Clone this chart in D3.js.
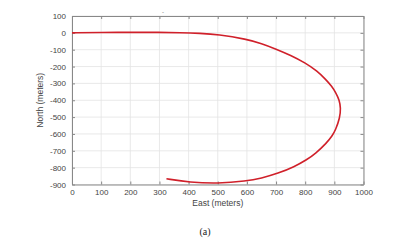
<!DOCTYPE html>
<html><head><meta charset="utf-8">
<script src="https://cdn.jsdelivr.net/npm/d3@7"></script>
<style>body{margin:0;background:#fff}svg{display:block}</style>
</head><body>
<script>
const eastVals = [0, 100, 200, 300, 370, 440, 500, 600, 650, 700, 750, 800, 840, 872, 890, 906, 917, 922, 919, 904, 893, 873, 836, 804, 763, 707, 649, 598, 500, 404, 324];
const northVals = [0, 2, 3, 3, 1, -3, -9, -38, -63, -96, -133, -178, -225, -279, -315, -357, -400, -446, -505, -577, -610, -655, -715, -755, -794, -834, -863, -880, -895, -887, -866];
const xTicks = [0,100,200,300,400,500,600,700,800,900,1000];
const yTicks = [100,0,-100,-200,-300,-400,-500,-600,-700,-800,-900];

const W=407,H=250;
const svg=d3.select("body").append("svg").attr("width",W).attr("height",H);
const x=d3.scaleLinear().domain([0,1000]).range([72,363.5]);
const y=d3.scaleLinear().domain([-900,100]).range([184.5,16]);

// grid
svg.append("g").selectAll("line").data(xTicks).join("line")
 .attr("x1",d=>x(d)).attr("x2",d=>x(d)).attr("y1",16).attr("y2",184.5)
 .attr("stroke","#e3e3e3").attr("stroke-width",0.8);
svg.append("g").selectAll("line").data(yTicks).join("line")
 .attr("y1",d=>y(d)).attr("y2",d=>y(d)).attr("x1",72).attr("x2",363.5)
 .attr("stroke","#e3e3e3").attr("stroke-width",0.8);

const fmt=d=>String(d);
const gx=svg.append("g").attr("transform","translate(0,184.5)").call(d3.axisBottom(x).tickValues(xTicks).tickFormat(fmt).tickSizeInner(-3).tickSizeOuter(0).tickPadding(6));
const gy=svg.append("g").attr("transform","translate(72,0)").call(d3.axisLeft(y).tickValues(yTicks).tickFormat(fmt).tickSizeInner(-3).tickSizeOuter(0).tickPadding(6));
const gt=svg.append("g").attr("transform","translate(0,16)").call(d3.axisTop(x).tickValues(xTicks).tickFormat("").tickSizeInner(-3).tickSizeOuter(0));
const gr=svg.append("g").attr("transform","translate(363.5,0)").call(d3.axisRight(y).tickValues(yTicks).tickFormat("").tickSizeInner(-3).tickSizeOuter(0));
[gx,gy,gt,gr].forEach(g=>{
  g.selectAll(".domain").attr("stroke","#888").attr("stroke-width",1);
  g.selectAll(".tick line").attr("stroke","#888");
  g.selectAll("text").attr("font-family","Liberation Sans, Arial, sans-serif").attr("font-size",8).attr("fill","#444");
});
gx.selectAll("text").attr("dy","0.55em");

const line=d3.line().x((d,i)=>x(eastVals[i])).y((d,i)=>y(northVals[i])).curve(d3.curveBasis);
svg.append("path").datum(eastVals).attr("d",line).attr("fill","none").attr("stroke","#d0202a").attr("stroke-width",1.6);

svg.append("text").attr("x",x(500)).attr("y",206).attr("text-anchor","middle")
 .attr("font-family","Liberation Sans, Arial, sans-serif").attr("font-size",8.5).attr("fill","#444").text("East (meters)");
svg.append("text").attr("transform",`translate(43,${y(-400)}) rotate(-90)`).attr("text-anchor","middle")
 .attr("font-family","Liberation Sans, Arial, sans-serif").attr("font-size",8.5).attr("fill","#444").text("North (meters)");
svg.append("text").attr("x",163).attr("y",14).attr("text-anchor","middle")
 .attr("font-family","Liberation Sans, Arial, sans-serif").attr("font-size",6).attr("fill","#666").text("-");
svg.append("text").attr("x",205).attr("y",235).attr("text-anchor","middle")
 .attr("font-family","Liberation Serif, Times New Roman, serif").attr("font-size",10).attr("fill","#222").text("(a)");
</script>
</body></html>
